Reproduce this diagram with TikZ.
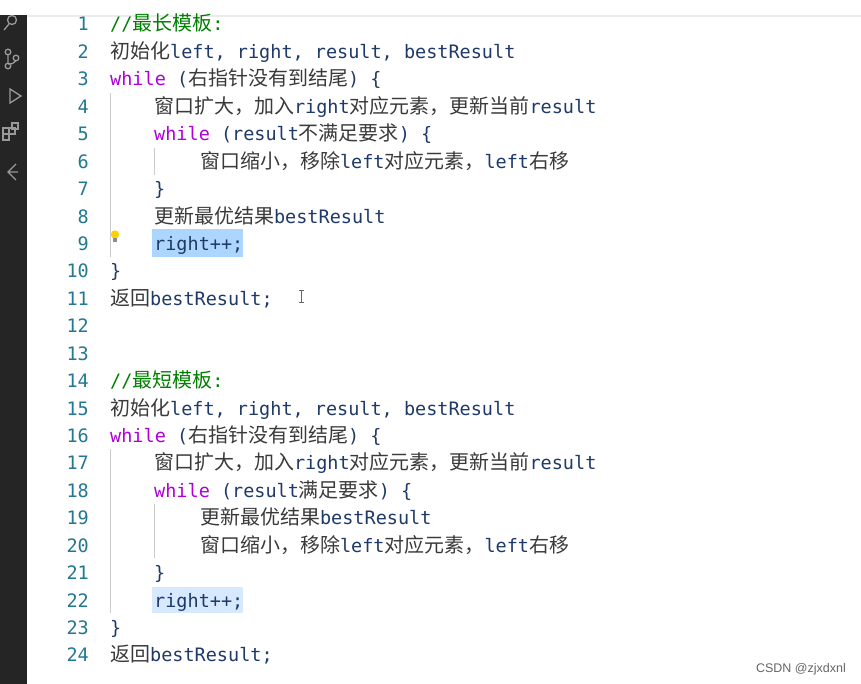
\documentclass[tikz,border=0pt]{standalone}
\usepackage{fontspec}
\setmainfont{DejaVu Sans Mono}
\newfontfamily\cjk{Noto Sans CJK SC}[Scale=1.08]
\newfontfamily\wm{Liberation Sans}
\definecolor{num}{HTML}{237893}
\definecolor{kw}{HTML}{AF00DB}
\definecolor{cm}{HTML}{008000}
\definecolor{idn}{HTML}{1F3A68}
\definecolor{zh}{HTML}{3A3A3A}
\definecolor{hl}{HTML}{ADD6FF}
\definecolor{hlb}{HTML}{D6E9FF}
\definecolor{side}{HTML}{252526}
\newcommand{\Kw}[1]{\textcolor{kw}{#1}}
\newcommand{\Zh}[1]{{\cjk\textcolor{zh}{#1}}}
\begin{document}
\begin{tikzpicture}[x=1pt,y=-1pt,
  code/.style={anchor=base west,inner sep=0pt,text=idn,font=\fontsize{18.5}{20}\selectfont},
  lnum/.style={anchor=base east,inner sep=0pt,text=num,font=\fontsize{18.5}{20}\selectfont},
  guide/.style={draw=black!20,line width=0.8pt}]
\useasboundingbox (0,0) rectangle (861,684);
\fill[white] (0,0) rectangle (861,684);
\fill[side] (0,15) rectangle (27,684);
\draw[black!8,line width=2pt] (27,16) -- (861,16);
% sidebar icons
\begin{scope}[draw=black!40,line width=1.3pt]
\draw (12,20) circle (4.5); \draw (9,24) -- (4,30);
\draw (8,52) circle (2.8) (8,66) circle (2.8) (16,58) circle (2.8) (8,54.8)--(8,63.2) (16,60.8) to[bend left] (8,64);
\draw (10,89) -- (21,96) -- (10,103) -- cycle;
\draw (3,128) rectangle (9,134) (9,128) rectangle (15,134) (3,134) rectangle (9,140) (12,123) rectangle (18,129);
\draw (16,164) -- (8,172) -- (16,180) (8,172) -- (18,172);
\end{scope}
% highlights
\fill[hl] (152,229) rectangle (243,257);
\fill[hlb] (152,587) rectangle (243,613);
% indent guides
\draw[guide] (110,93) -- (110,257);
\draw[guide] (154,148) -- (154,175);
\draw[guide] (110,449) -- (110,613);
\draw[guide] (154,504) -- (154,558);
% lightbulb
\fill[yellow!70!orange] (115,234.5) circle (4.2);
\fill[black!45] (113.2,238.5) rectangle (116.8,242);
% cursor
\draw[black!60,line width=0.8pt] (301,290) -- (301,302) (298.5,290) -- (303.5,290) (298.5,302) -- (303.5,302);
% line numbers
\foreach \i in {1,...,24}{
  \node[lnum] (n\i) at (89,{31+27.43*(\i-1)}) {\i};
}
\def\Y#1{{31+27.43*(#1-1)}}
\node[code,text=cm] (l1) at (110,\Y{1}) {//{\cjk 最长模板}:};
\node[code] (l2) at (110,\Y{2}) {\Zh{初始化}left, right, result, bestResult};
\node[code] (l3) at (110,\Y{3}) {\Kw{while} (\Zh{右指针没有到结尾}) \{};
\node[code] (l4) at (154,\Y{4}) {\Zh{窗口扩大，加入}right\Zh{对应元素，更新当前}result};
\node[code] (l5) at (154,\Y{5}) {\Kw{while} (result\Zh{不满足要求}) \{};
\node[code] (l6) at (200,\Y{6}) {\Zh{窗口缩小，移除}left\Zh{对应元素，}left\Zh{右移}};
\node[code] (l7) at (154,\Y{7}) {\}};
\node[code] (l8) at (154,\Y{8}) {\Zh{更新最优结果}bestResult};
\node[code] (l9) at (154,\Y{9}) {right++;};
\node[code] (l10) at (110,\Y{10}) {\}};
\node[code] (l11) at (110,\Y{11}) {\Zh{返回}bestResult;};
\node[code,text=cm] (l14) at (110,\Y{14}) {//{\cjk 最短模板}:};
\node[code] (l15) at (110,\Y{15}) {\Zh{初始化}left, right, result, bestResult};
\node[code] (l16) at (110,\Y{16}) {\Kw{while} (\Zh{右指针没有到结尾}) \{};
\node[code] (l17) at (154,\Y{17}) {\Zh{窗口扩大，加入}right\Zh{对应元素，更新当前}result};
\node[code] (l18) at (154,\Y{18}) {\Kw{while} (result\Zh{满足要求}) \{};
\node[code] (l19) at (200,\Y{19}) {\Zh{更新最优结果}bestResult};
\node[code] (l20) at (200,\Y{20}) {\Zh{窗口缩小，移除}left\Zh{对应元素，}left\Zh{右移}};
\node[code] (l21) at (154,\Y{21}) {\}};
\node[code] (l22) at (154,\Y{22}) {right++;};
\node[code] (l23) at (110,\Y{23}) {\}};
\node[code] (l24) at (110,\Y{24}) {\Zh{返回}bestResult;};
\node[anchor=base east,inner sep=0pt,text=black!60,font=\wm\fontsize{12.5}{13}\selectfont] (wm) at (846,672) {CSDN @zjxdxnl};
\end{tikzpicture}
\end{document}
